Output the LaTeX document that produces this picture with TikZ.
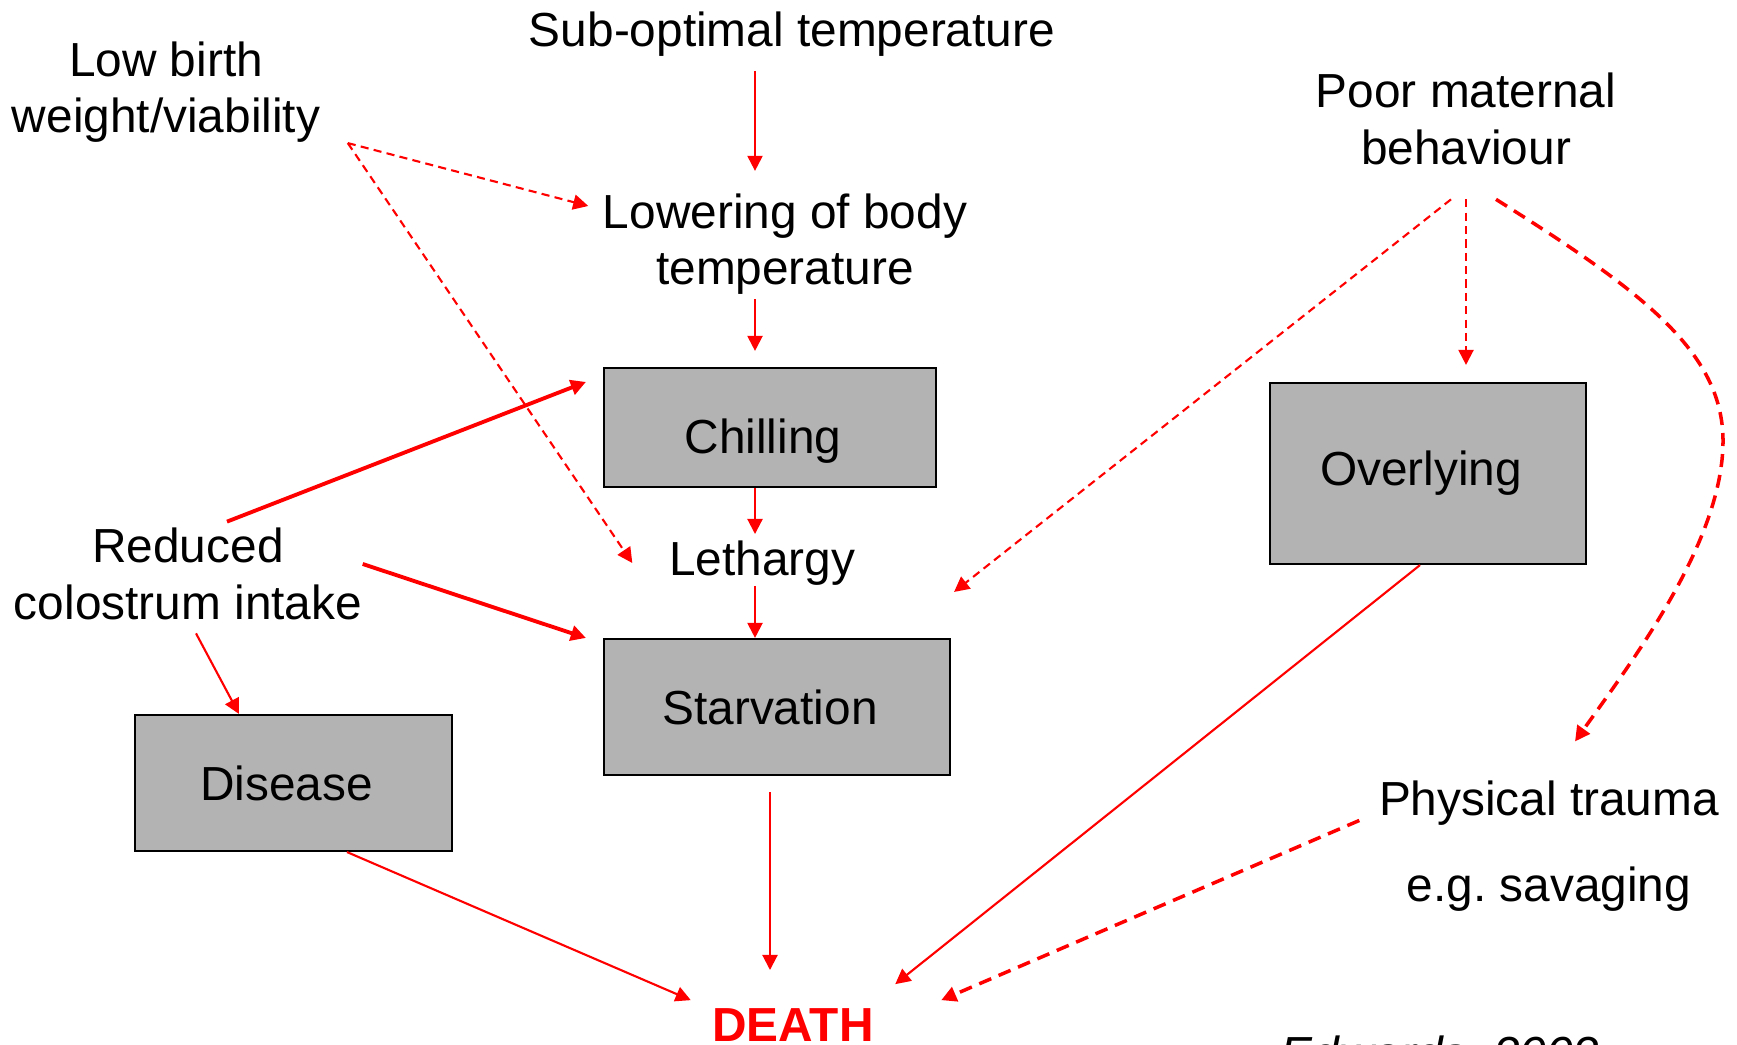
\documentclass[tikz,border=0pt]{standalone}
\usepackage{fontspec}
\setmainfont{Liberation Sans}
\usetikzlibrary{arrows.meta}
\definecolor{boxgray}{RGB}{179,179,179}
\definecolor{linkred}{RGB}{255,0,0}

\begin{document}
\begin{tikzpicture}[x=0.1mm,y=-0.1mm,
  txt/.style={inner sep=0pt,align=center,font=\fontsize{13.6}{16}\selectfont},
  cause/.style={txt,draw=black,line width=0.6pt,fill=boxgray,execute at end node=\kern1.4mm},
  link/.style={draw=linkred,line width=0.6pt,-{Triangle[length=4.3pt,width=4.3pt]}},
  heavy/.style={link,line width=1.1pt},
  maybe/.style={link,dash pattern=on 2.3pt off 1.5pt},
  weak/.style={link,line width=1pt,dash pattern=on 3.7pt off 2.3pt}]
\useasboundingbox (0,0) rectangle (1737,1045);
% causes and stages
\node[txt] (sub) at (792,34) {Sub-optimal temperature};
\node[txt] (low) at (166,92) {Low birth\\weight/viability};
\node[txt] (lower) at (785,244) {Lowering of body\\temperature};
\node[cause,minimum width=33.2mm,minimum height=11.9mm,text height=6.1mm] (chill) at (770,427.5) {Chilling};
\node[txt] (leth) at (762,563) {Lethargy};
\node[cause,minimum width=34.6mm,minimum height=13.6mm] (starv) at (777,707) {Starvation};
\node[cause,minimum width=31.6mm,minimum height=18.1mm] (over) at (1428,473.5) {Overlying};
\node[cause,minimum width=31.7mm,minimum height=13.6mm] (dis) at (293.5,783) {Disease};
\node[txt] (redu) at (188,574) {Reduced\\colostrum intake};
\node[txt] (poor) at (1466,119) {Poor maternal\\behaviour};
\node[txt] (trauma) at (1549,846.5) {Physical trauma\\[8.5pt]e.g.\ savaging};
\node[txt,anchor=north,text=linkred,font=\fontsize{13.6}{16}\selectfont\bfseries] (death) at (793,1008) {DEATH};
\node[txt,anchor=north,font=\fontsize{13.6}{16}\selectfont\itshape] (edw) at (1440,1035) {Edwards, 2002};
\coordinate (spine) at (755,0);
\coordinate (dropx) at (770,0);

% temperature chain
\draw[link,shorten <=1.4mm,shorten >=2.2mm] (sub.south -| spine) -- (lower.north -| spine);
\draw[link,shorten <=0.4mm,shorten >=1.6mm] (lower.south -| spine) -- (chill.north -| spine);
\draw[link,shorten >=0.6mm] (chill.south -| spine) -- (leth.north -| spine);
\draw[link] (leth.south -| spine) -- (starv.north -| spine);
\draw[link,shorten <=1.6mm,shorten >=3.8mm] (starv.south -| dropx) -- (death.north -| dropx);

% low birth weight
\draw[maybe] ([xshift=2.7mm]low.south east) -- ([shift={(-1.4mm,3.8mm)}]lower.west);
\draw[maybe] ([xshift=2.7mm]low.south east) -- ([xshift=-3.6mm]leth.west);

% colostrum
\draw[heavy] ([shift={(3.9mm,0.6mm)}]redu.north) -- ([shift={(-1.7mm,-1.5mm)}]chill.north west);
\draw[heavy] ([yshift=1mm]redu.east) -- ([xshift=-1.7mm]starv.north west);
\draw[link] ([shift={(0.8mm,-1.3mm)}]redu.south) -- ([xshift=-5.45mm]dis.north);

% maternal behaviour
\draw[maybe] ([shift={(-1.5mm,-3.4mm)}]poor.south) -- ([shift={(0.3mm,4.6mm)}]starv.north east);
\draw[maybe,shorten <=3.4mm,shorten >=1.7mm] (poor.south) -- (over.north -| poor.south);
\draw[weak] ([shift={(3mm,-3.4mm)}]poor.south) .. controls (1640,290) and (1723,351) .. (1723,441)
  .. controls (1723,541) and (1633,660) .. ([shift={(2.6mm,3.9mm)}]trauma.north);

% into death
\draw[link] ([xshift=5.35mm]dis.south) -- ([shift={(-2.1mm,2.5mm)}]death.west);
\draw[link] ([xshift=-0.8mm]over.south) -- ([shift={(2.1mm,4.1mm)}]death.east);
\draw[weak] ([shift={(-1.9mm,-4mm)}]trauma.north west) -- ([shift={(6.7mm,2.5mm)}]death.east);
\end{tikzpicture}
\end{document}
